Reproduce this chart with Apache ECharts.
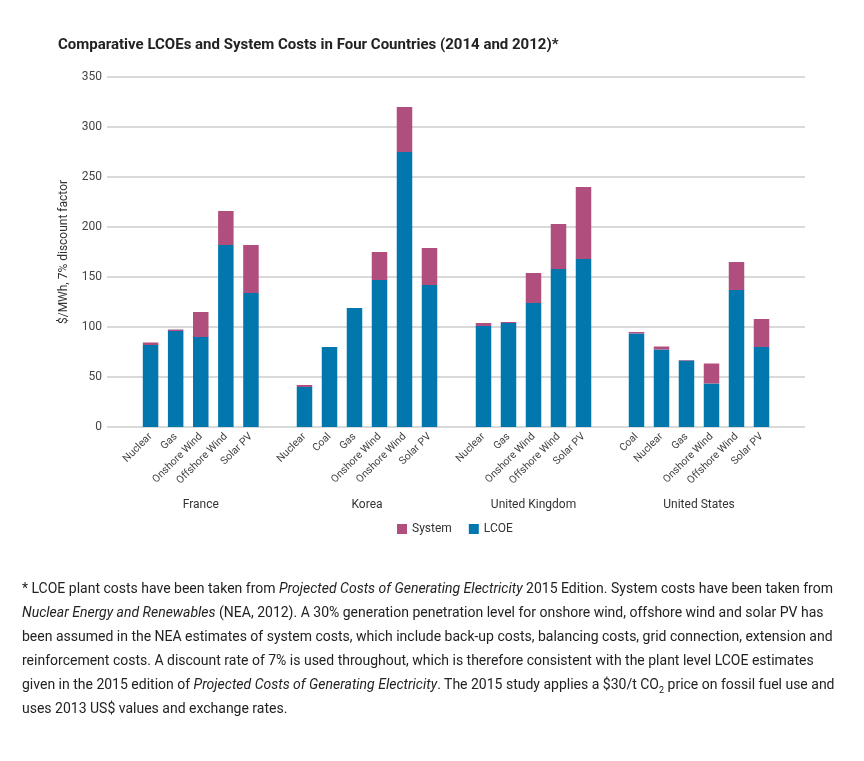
<!DOCTYPE html>
<html>
<head>
<meta charset="utf-8">
<script src="https://cdn.jsdelivr.net/npm/echarts@6/dist/echarts.min.js"></script>
<style>
html,body{margin:0;padding:0;background:#fff;}
#chart{position:absolute;left:0;top:0;width:864px;height:761px;}
#note{position:absolute;left:22px;top:576px;font-family:Roboto,"Noto Sans",sans-serif;font-size:14px;line-height:24px;color:#222;white-space:nowrap;}
#note sub{font-size:9px;line-height:0;}
</style>
</head>
<body>
<div id="chart"></div>
<div id="note">* LCOE plant costs have been taken from <i>Projected Costs of Generating Electricity</i> 2015 Edition. System costs have been taken from<br><i>Nuclear Energy and Renewables</i> (NEA, 2012). A 30% generation penetration level for onshore wind, offshore wind and solar PV has<br>been assumed in the NEA estimates of system costs, which include back-up costs, balancing costs, grid connection, extension and<br>reinforcement costs. A discount rate of 7% is used throughout, which is therefore consistent with the plant level LCOE estimates<br>given in the 2015 edition of <i>Projected Costs of Generating Electricity</i>. The 2015 study applies a $30/t CO<sub>2</sub> price on fossil fuel use and<br>uses 2013 US$ values and exchange rates.</div>
<script>
var countries = ['France', 'Korea', 'United Kingdom', 'United States'];
var franceCats = ['Nuclear', 'Gas', 'Onshore Wind', 'Offshore Wind', 'Solar PV'];
var koreaCats = ['Nuclear', 'Coal', 'Gas', 'Onshore Wind', 'Onshore Wind', 'Solar PV'];
var ukCats = ['Nuclear', 'Gas', 'Onshore Wind', 'Offshore Wind', 'Solar PV'];
var usCats = ['Coal', 'Nuclear', 'Gas', 'Onshore Wind', 'Offshore Wind', 'Solar PV'];

var franceLcoe = [82, 96, 90, 182, 134];
var franceSystem = [2.5, 1.5, 25, 34, 48];
var koreaLcoe = [40, 80, 119, 147, 275, 142];
var koreaSystem = [2, 0, 0, 28, 45, 37];
var ukLcoe = [101, 104, 124, 158, 168];
var ukSystem = [3, 1, 30, 45, 72];
var usLcoe = [93.5, 77.5, 66.5, 43.5, 137, 80];
var usSystem = [1.5, 3, 0.5, 20, 28, 28];

var yTicks = [0, 50, 100, 150, 200, 250, 300, 350];

var cats = [franceCats, koreaCats, ukCats, usCats];
var lcoe = [franceLcoe, koreaLcoe, ukLcoe, usLcoe];
var sys = [franceSystem, koreaSystem, ukSystem, usSystem];

var FONT = 'Roboto, "Noto Sans", sans-serif';
var BLUE = '#0277ae';
var PINK = '#b04e7e';
var TOP = 77, H = 350;
var groupBoxes = [[138, 125.5], [292, 150], [471, 125], [624, 150]];

var grids = [{left: 107, width: 698, top: TOP, height: H}];
var xAxes = [{gridIndex: 0, type: 'category', data: [''], show: false}];
var yAxes = [{
  gridIndex: 0, type: 'value', min: yTicks[0], max: yTicks[yTicks.length - 1], interval: 50,
  name: '$/MWh, 7% discount factor', nameLocation: 'middle', nameGap: 37,
  nameTextStyle: {fontFamily: FONT, fontSize: 12, color: '#333'},
  axisLine: {show: false}, axisTick: {show: false},
  axisLabel: {fontFamily: FONT, fontSize: 12, color: '#444', margin: 5},
  splitLine: {lineStyle: {color: '#cccccc', width: 1.5}}
}];
var series = [];
for (var i = 0; i < 4; i++) {
  var gi = i + 1;
  grids.push({left: groupBoxes[i][0], width: groupBoxes[i][1], top: TOP, height: H});
  xAxes.push({
    gridIndex: gi, type: 'category', data: cats[i],
    name: countries[i], nameLocation: 'middle', nameGap: 72,
    nameTextStyle: {fontFamily: FONT, fontSize: 12, color: '#333'},
    axisLine: {show: false}, axisTick: {show: false},
    axisLabel: {rotate: 45, interval: 0, fontFamily: FONT, fontSize: 10.5, color: '#444', margin: 8}
  });
  yAxes.push({gridIndex: gi, type: 'value', min: 0, max: 350, show: false, splitLine: {show: false}});
  series.push({
    name: 'LCOE', type: 'bar', stack: 'c' + i, xAxisIndex: gi, yAxisIndex: gi,
    barWidth: 15.5, data: lcoe[i], itemStyle: {color: BLUE}
  });
  series.push({
    name: 'System', type: 'bar', stack: 'c' + i, xAxisIndex: gi, yAxisIndex: gi,
    barWidth: 15.5, data: sys[i], itemStyle: {color: PINK}
  });
}

var chart = echarts.init(document.getElementById('chart'));
chart.setOption({
  animation: false,
  backgroundColor: '#fff',
  title: {
    text: 'Comparative LCOEs and System Costs in Four Countries (2014 and 2012)*',
    left: 58, top: 38, padding: 0,
    textStyle: {fontFamily: FONT, fontSize: 15, fontWeight: 'bold', color: '#222'}
  },
  legend: {
    data: ['System', 'LCOE'], left: 392, top: 518, icon: 'rect',
    itemWidth: 10, itemHeight: 10, itemGap: 17,
    textStyle: {fontFamily: FONT, fontSize: 12, color: '#333'}
  },
  grid: grids,
  xAxis: xAxes,
  yAxis: yAxes,
  series: series
});
</script>
</body>
</html>
